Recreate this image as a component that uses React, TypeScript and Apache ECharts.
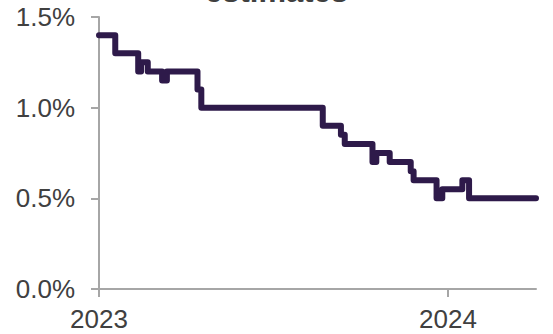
import React, { useEffect, useRef } from 'react';
import * as echarts from 'echarts';

// Policy-rate estimate path: each entry is the date a new estimate took effect
const stepDates = [
  '2023-01-01', '2023-01-18', '2023-02-11', '2023-02-14', '2023-02-21',
  '2023-03-08', '2023-03-13', '2023-04-14', '2023-04-18', '2023-08-23',
  '2023-09-11', '2023-09-15', '2023-10-14', '2023-10-18', '2023-11-01',
  '2023-11-23', '2023-11-26', '2023-12-20', '2023-12-26', '2024-01-16',
  '2024-01-23', '2024-04-02',
];
const estimateValues = [
  1.4, 1.3, 1.2, 1.25, 1.2,
  1.15, 1.2, 1.1, 1.0, 0.9,
  0.85, 0.8, 0.7, 0.75, 0.7,
  0.65, 0.6, 0.5, 0.55, 0.6,
  0.5, 0.5,
];
const yearLabels = ['2023', '2024'];
const yTickValues = [0, 0.5, 1.0, 1.5];
const titleText = 'estimates';

const DAY_MS = 86400000;
const originMs = Date.UTC(2023, 0, 1);
const toDays = (iso: string) => (Date.parse(iso + 'T00:00:00Z') - originMs) / DAY_MS;

const LINE_COLOR = '#2E1A4A';
const AXIS_COLOR = '#A6A6A6';
const TEXT_COLOR = '#404040';
const FONT = '"Liberation Sans", Arial, sans-serif';

export default function App() {
  const ref = useRef<HTMLDivElement>(null);

  useEffect(() => {
    if (!ref.current) return;
    const chart = echarts.init(ref.current, undefined, { renderer: 'svg' });

    const yearDays = yearLabels.map((y) => toDays(`${y}-01-01`));
    const seriesData = stepDates.map((d, i) => [toDays(d), estimateValues[i]]);

    chart.setOption({
      animation: false,
      backgroundColor: '#ffffff',
      grid: { left: 99, right: 17, top: 17, bottom: 45, outerBoundsMode: 'none' },
      graphic: [
        {
          type: 'text',
          left: 'center',
          top: -24,
          style: {
            text: titleText,
            fontFamily: FONT,
            fontWeight: 'bold',
            fontSize: 31,
            fill: TEXT_COLOR,
          },
        },
      ],
      xAxis: {
        type: 'value',
        min: 0,
        max: toDays(stepDates[stepDates.length - 1]),
        splitLine: { show: false },
        axisLine: { show: true, lineStyle: { color: AXIS_COLOR, width: 2 } },
        axisTick: {
          show: true,
          length: 8,
          customValues: yearDays,
          lineStyle: { color: AXIS_COLOR, width: 2 },
        },
        axisLabel: {
          customValues: yearDays,
          margin: 17,
          fontFamily: FONT,
          fontSize: 26,
          color: TEXT_COLOR,
          formatter: (v: number) => {
            const idx = yearDays.findIndex((d) => Math.abs(d - v) < 0.5);
            return idx >= 0 ? yearLabels[idx] : '';
          },
        },
      },
      yAxis: {
        type: 'value',
        min: yTickValues[0],
        max: yTickValues[yTickValues.length - 1],
        interval: 0.5,
        splitLine: { show: false },
        axisLine: { show: true, lineStyle: { color: AXIS_COLOR, width: 2 } },
        axisTick: { show: true, length: 8, lineStyle: { color: AXIS_COLOR, width: 2 } },
        axisLabel: {
          margin: 24,
          fontFamily: FONT,
          fontSize: 26,
          color: TEXT_COLOR,
          formatter: (v: number) => `${v.toFixed(1)}%`,
        },
      },
      series: [
        {
          type: 'line',
          step: 'end',
          data: seriesData,
          symbol: 'none',
          clip: false,
          lineStyle: { color: LINE_COLOR, width: 6, cap: 'round', join: 'round' },
        },
      ],
    });

    return () => chart.dispose();
  }, []);

  return (
    <div
      ref={ref}
      style={{ position: 'fixed', left: 0, top: 0, width: 553, height: 334, background: '#fff' }}
    />
  );
}
